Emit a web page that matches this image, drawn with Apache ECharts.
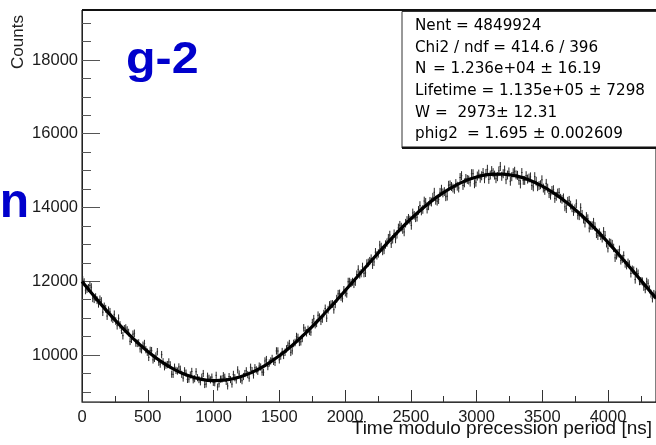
<!DOCTYPE html>
<html>
<head>
<meta charset="utf-8">
<script src="https://cdn.jsdelivr.net/npm/echarts@6/dist/echarts.min.js"></script>
<style>
  html, body { margin: 0; padding: 0; background: #fff; }
  #chart { width: 656px; height: 445px; }
</style>
</head>
<body>
<div id="chart"></div>
<script>
// Decay-time histogram folded modulo the g-2 precession period (ns)
const periodNs = 4365;

// Entries per bin (400 equal bins across one period)
const binCounts = [
  12029, 11971, 11755, 11792, 11816, 11888, 11838, 11540, 11514, 11566, 11487, 11391, 11507, 11461, 11162, 11316, 11252, 11056, 11212, 11170,
  11012, 10970, 11103, 10921, 10793, 10996, 10814, 10672, 10523, 10710, 10730, 10677, 10608, 10370, 10426, 10563, 10588, 10324, 10315, 10326,
  10167, 10143, 10264, 10310, 10145, 10076, 9935, 10125, 10117, 9867, 9908, 9973, 10089, 9804, 9753, 10009, 9815, 9681, 9723, 9739,
  9811, 9732, 9479, 9475, 9669, 9581, 9564, 9676, 9614, 9476, 9374, 9571, 9509, 9336, 9346, 9459, 9554, 9327, 9357, 9545,
  9384, 9332, 9272, 9398, 9497, 9198, 9213, 9424, 9369, 9325, 9400, 9256, 9247, 9449, 9131, 9218, 9345, 9347, 9439, 9396,
  9282, 9160, 9414, 9332, 9211, 9474, 9383, 9321, 9596, 9484, 9341, 9302, 9416, 9497, 9571, 9467, 9371, 9667, 9576, 9457,
  9654, 9596, 9557, 9699, 9674, 9536, 9531, 9838, 9875, 9686, 9783, 9839, 9906, 9827, 9799, 10110, 10107, 9868, 9970, 10092,
  9988, 10075, 10166, 10263, 10309, 10071, 10112, 10313, 10339, 10500, 10476, 10342, 10358, 10449, 10735, 10666, 10603, 10693, 10642, 10622,
  10876, 10981, 10824, 10859, 11077, 11024, 10916, 10978, 11120, 11262, 10999, 11226, 11353, 11375, 11383, 11227, 11375, 11524, 11657, 11666,
  11575, 11534, 11762, 11696, 11662, 11986, 11986, 11950, 11985, 11924, 11984, 12183, 12323, 12182, 12217, 12391, 12216, 12225, 12485, 12504,
  12547, 12616, 12445, 12524, 12787, 12701, 12753, 12982, 12930, 12819, 12848, 12995, 13046, 13168, 13254, 13016, 13137, 13289, 13145, 13272,
  13446, 13519, 13469, 13402, 13336, 13574, 13649, 13707, 13661, 13514, 13852, 13788, 13721, 13737, 13921, 14052, 13906, 13947, 14175, 14140,
  13956, 14046, 14167, 14147, 14278, 14413, 14195, 14170, 14215, 14411, 14495, 14396, 14431, 14292, 14307, 14603, 14614, 14569, 14528, 14493,
  14648, 14578, 14528, 14813, 14863, 14598, 14668, 14787, 14760, 14744, 14687, 14916, 14915, 14644, 14685, 14853, 14905, 14793, 14860, 14948,
  14780, 14923, 15035, 14763, 14880, 15000, 14943, 14878, 14781, 14836, 14992, 15112, 14846, 14916, 15015, 14754, 14880, 14964, 14712, 14836,
  14942, 14981, 14885, 14873, 14736, 14639, 14947, 14735, 14734, 14862, 14770, 14798, 14830, 14597, 14559, 14836, 14712, 14564, 14596, 14618,
  14751, 14527, 14463, 14654, 14525, 14376, 14332, 14463, 14484, 14245, 14303, 14393, 14410, 14250, 14221, 14261, 14018, 13968, 14169, 14194,
  14064, 13990, 13891, 13967, 14103, 13789, 13775, 13996, 13816, 13683, 13575, 13757, 13698, 13440, 13512, 13509, 13601, 13483, 13286, 13234,
  13318, 13231, 13165, 13353, 13247, 13030, 12894, 13050, 13036, 13007, 12904, 12635, 12701, 12757, 12853, 12564, 12605, 12699, 12479, 12433,
  12503, 12457, 12212, 12316, 12291, 12045, 12254, 12208, 12002, 12006, 11994, 11848, 11782, 11986, 11945, 11779, 11663, 11532, 11656, 11620
];

// Fitted curve, sampled along the period
const fitTimes = [
  0, 100, 200, 300, 400, 500, 600, 700, 800, 900,
  1000, 1100, 1200, 1300, 1400, 1500, 1600, 1700, 1800, 1900,
  2000, 2100, 2200, 2300, 2400, 2500, 2600, 2700, 2800, 2900,
  3000, 3100, 3200, 3300, 3400, 3500, 3600, 3700, 3800, 3900,
  4000, 4100, 4200, 4300, 4365
];
const fitValues = [
  11992, 11562, 11149, 10762, 10408, 10095, 9826, 9610, 9449, 9347,
  9305, 9324, 9403, 9541, 9734, 9977, 10266, 10595, 10955, 11340,
  11741, 12149, 12556, 12954, 13334, 13688, 14007, 14287, 14520, 14702,
  14828, 14897, 14906, 14856, 14747, 14581, 14361, 14093, 13782, 13433,
  13053, 12651, 12235, 11813, 11539
];

// Fit statistics box
const statNames = ['Nent', 'Chi2 / ndf', 'N', 'Lifetime', 'W', 'phig2'];
const statValues = ['= 4849924', '= 414.6 / 396', '= 1.236e+04 \u00b1 16.19',
                    '= 1.135e+05 \u00b1 7298', '=  2973\u00b1 12.31', '= 1.695 \u00b1 0.002609'];

const yRange = [8725, 19356];

const binWidth = periodNs / binCounts.length;
const histData = binCounts.map((c, i) => [(i + 0.5) * binWidth, c, Math.sqrt(c)]);
const fitData = fitTimes.map((t, i) => [t, fitValues[i]]);

const labelFont = '"Liberation Sans", Arial, sans-serif';
const statFont = '"DejaVu Sans", sans-serif';
const statFontCss = '15.2px ' + statFont;

const chart = echarts.init(document.getElementById('chart'), null, { renderer: 'canvas' });

// stat box rows: names in one column, values either inline or in their own column
const statValueX = [null, null, 433, null, 435, 467];
const statY = [26, 48, 69.5, 91, 113, 134];
const statTexts = [];
statNames.forEach((name, i) => {
  const base = { fill: '#000', align: 'left', verticalAlign: 'middle', font: statFontCss };
  if (statValueX[i] === null) {
    statTexts.push({ type: 'text', x: 415, y: statY[i], z: 102,
      style: Object.assign({ text: name + ' ' + statValues[i] }, base) });
  } else {
    statTexts.push({ type: 'text', x: 415, y: statY[i], z: 102,
      style: Object.assign({ text: name }, base) });
    statTexts.push({ type: 'text', x: statValueX[i], y: statY[i], z: 102,
      style: Object.assign({ text: statValues[i] }, base) });
  }
});

const option = {
  animation: false,
  backgroundColor: '#fff',
  grid: {
    left: 82, right: -5, top: 10, bottom: 43,
    show: true, borderColor: '#000', borderWidth: 1, backgroundColor: 'transparent'
  },
  xAxis: {
    type: 'value', min: 0, max: periodNs, interval: 500,
    axisLine: { show: true, lineStyle: { color: '#333', width: 1 } },
    axisTick: { show: true, inside: true, length: 12, lineStyle: { color: '#333', width: 1 } },
    minorTick: { show: true, splitNumber: 2, length: 6, lineStyle: { color: '#333', width: 1 } },
    splitLine: { show: false },
    axisLabel: {
      show: true, margin: 7, color: '#1a1a1a', fontSize: 16.5, fontFamily: labelFont,
      showMaxLabel: false, formatter: v => String(v)
    }
  },
  yAxis: {
    type: 'value', min: yRange[0], max: yRange[1], splitNumber: 5,
    axisLine: { show: true, lineStyle: { color: '#222', width: 1 } },
    axisTick: { show: true, inside: true, length: 18, lineStyle: { color: '#555', width: 1 } },
    minorTick: { show: true, splitNumber: 4, length: 9, lineStyle: { color: '#555', width: 1 } },
    splitLine: { show: false },
    axisLabel: {
      show: true, margin: 4, color: '#1a1a1a', fontSize: 16.5, fontFamily: labelFont,
      showMinLabel: false, showMaxLabel: false, formatter: v => String(v)
    }
  },
  series: [
    {
      // histogram bins with Poisson error bars
      type: 'custom',
      clip: true,
      data: histData,
      encode: { x: 0, y: 1 },
      z: 2,
      renderItem: function (params, api) {
        const t = api.value(0), c = api.value(1), e = api.value(2);
        const top = api.coord([t, c + e]);
        const bot = api.coord([t, c - e]);
        const l = api.coord([t - binWidth / 2, c]);
        const r = api.coord([t + binWidth / 2, c]);
        return {
          type: 'group',
          children: [
            { type: 'line', shape: { x1: top[0], y1: top[1], x2: bot[0], y2: bot[1] },
              style: { stroke: '#262626', lineWidth: 1 } },
            { type: 'line', shape: { x1: l[0], y1: l[1], x2: r[0], y2: r[1] },
              style: { stroke: '#262626', lineWidth: 1 } }
          ]
        };
      }
    },
    {
      // fitted function
      type: 'line',
      data: fitData,
      smooth: 0.4,
      symbol: 'none',
      z: 3,
      lineStyle: { color: '#000', width: 3.2 }
    }
  ],
  graphic: [
    { type: 'rect', z: 99, shape: { x: 82, y: 9, width: 580, height: 2 }, style: { fill: '#111' } },
    { type: 'text', x: 18, y: 42, rotation: Math.PI / 2, z: 100,
      style: { text: 'Counts', font: '17px ' + labelFont, fill: '#222', align: 'center', verticalAlign: 'middle' } },
    { type: 'text', x: 652, y: 429, z: 100,
      style: { text: 'Time modulo precession period [ns]', font: '19px ' + labelFont, fill: '#111',
               align: 'right', verticalAlign: 'middle' } },
    { type: 'text', x: 126, y: 61, scaleX: 1.1, z: 100,
      style: { text: 'g-2', font: 'bold 44px ' + labelFont, fill: '#0000cc', align: 'left', verticalAlign: 'middle' } },
    { type: 'text', x: 29, y: 204, z: 100,
      style: { text: 'n', font: 'bold 48px ' + labelFont, fill: '#0000cc', align: 'right', verticalAlign: 'middle' } },
    { type: 'rect', z: 101, shape: { x: 402, y: 11.5, width: 270, height: 136.5 },
      style: { fill: '#fff', stroke: '#333', lineWidth: 1 } },
    { type: 'rect', z: 101, shape: { x: 402, y: 146.5, width: 270, height: 2.5 },
      style: { fill: '#111' } }
  ].concat(statTexts)
};

chart.setOption(option);
</script>
</body>
</html>
